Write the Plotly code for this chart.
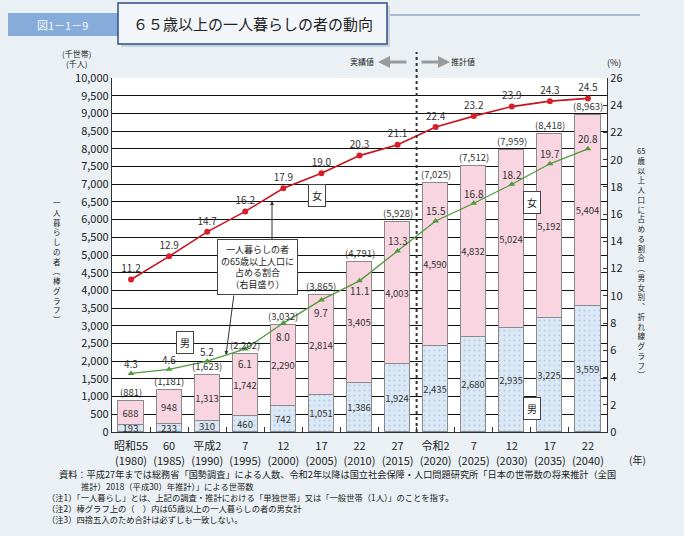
import plotly.graph_objects as go

years = [1980, 1985, 1990, 1995, 2000, 2005, 2010, 2015, 2020, 2025, 2030, 2035, 2040]
era_labels = ["昭和55", "60", "平成2", "7", "12", "17", "22", "27", "令和2", "7", "12", "17", "22"]
male_count = [193, 233, 310, 460, 742, 1051, 1386, 1924, 2435, 2680, 2935, 3225, 3559]
female_count = [688, 948, 1313, 1742, 2290, 2814, 3405, 4003, 4590, 4832, 5024, 5192, 5404]
total_count = [881, 1181, 1623, 2202, 3032, 3865, 4791, 5928, 7025, 7512, 7959, 8418, 8963]
male_pct = [4.3, 4.6, 5.2, 6.1, 8.0, 9.7, 11.1, 13.3, 15.5, 16.8, 18.2, 19.7, 20.8]
female_pct = [11.2, 12.9, 14.7, 16.2, 17.9, 19.0, 20.3, 21.1, 22.4, 23.2, 23.9, 24.3, 24.5]
# label offsets (pixels) for the male-ratio labels: above for most, below where totals sit
male_label_shift = [10, 10, 10, -15, -13, -13, -10, 10, 10, 10, 10, 10, 10]

FONT = "Noto Sans CJK JP"
W, H = 684, 536
L, R, T, B = 112, 77, 78, 104
PW, PH = W - L - R, H - T - B


def px(x):
    return (x - L) / PW


def py(y):
    return (H - B - y) / PH


fig = go.Figure()

fig.add_trace(go.Bar(
    x=years, y=male_count, width=3.3,
    marker=dict(color="#dbe8f5", line=dict(color="#8a8a8a", width=1),
                pattern=dict(shape=".", fgcolor="#8fb0d3", bgcolor="#dbe8f5", size=5, solidity=0.15)),
    text=[f"{v:,}" for v in male_count], textposition="inside", insidetextanchor="middle", textangle=0,
    textfont=dict(size=9.5, color="#333", family=FONT), showlegend=False, hoverinfo="skip"))

fig.add_trace(go.Bar(
    x=years, y=female_count, width=3.3,
    marker=dict(color="#f8d5e0", line=dict(color="#8a8a8a", width=1)),
    text=[f"{v:,}" for v in female_count], textposition="inside", insidetextanchor="middle", textangle=0,
    textfont=dict(size=9.5, color="#333", family=FONT), showlegend=False, hoverinfo="skip"))

fig.add_trace(go.Scatter(
    x=years, y=female_pct, yaxis="y2", mode="lines+markers+text",
    line=dict(color="#c4161c", width=1.6), marker=dict(symbol="circle", size=6, color="#d81e28"),
    text=[f"{v:.1f}" for v in female_pct], textposition="top center",
    textfont=dict(size=10, color="#333", family=FONT), showlegend=False, hoverinfo="skip"))

fig.add_trace(go.Scatter(
    x=years, y=male_pct, yaxis="y2", mode="lines+markers",
    line=dict(color="#4f9a3a", width=1.3), marker=dict(symbol="triangle-up", size=6, color="#4f9a3a"),
    showlegend=False, hoverinfo="skip"))

mid_ticks = [(years[i] + years[i + 1]) / 2 for i in range(len(years) - 1)]

fig.update_layout(
    width=W, height=H, margin=dict(l=L, r=R, t=T, b=B),
    paper_bgcolor="#eaf0f4", plot_bgcolor="#ffffff",
    barmode="stack", bargap=0,
    font=dict(family=FONT, color="#222"),
    uniformtext=dict(minsize=9.5, mode="show"),
    xaxis=dict(range=[1977.5, 2042.5], tickmode="array", tickvals=years,
               ticktext=[f"{a}<br>({y})" for a, y in zip(era_labels, years)],
               showline=True, linecolor="#333", linewidth=1.2, showgrid=False, zeroline=False,
               ticks="", ticklabelstandoff=4, tickfont=dict(size=11, color="#222"),
               minor=dict(tickmode="array", tickvals=mid_ticks, ticks="inside", ticklen=5, tickcolor="#333")),
    yaxis=dict(range=[0, 10000], dtick=500, tickformat=",", showline=True, linecolor="#333", linewidth=1.2,
               gridcolor="#111", gridwidth=1.3, zeroline=False, ticks="", tickfont=dict(size=11, color="#222")),
    yaxis2=dict(range=[0, 26], dtick=2, overlaying="y", side="right", showgrid=False, zeroline=False,
                showline=True, linecolor="#333", linewidth=1.2, ticks="inside", ticklen=4, tickcolor="#333",
                tickfont=dict(size=11, color="#222")),
)

shapes = []
# dotted divider between actual and projected values
shapes.append(dict(type="line", xref="x", yref="paper", x0=2017.5, x1=2017.5, y0=0, y1=py(52),
                   line=dict(color="#333", width=2, dash="dot")))
# title tab and box
shapes.append(dict(type="line", xref="paper", yref="paper", x0=px(388), x1=px(640), y0=py(15), y1=py(15),
                   line=dict(color="#a9bdd2", width=2)))
shapes.append(dict(type="rect", xref="paper", yref="paper", x0=px(8), x1=px(118), y0=py(13), y1=py(36),
                   fillcolor="#86acd9", line=dict(width=0)))
shapes.append(dict(type="rect", xref="paper", yref="paper", x0=px(121), x1=px(390), y0=py(6), y1=py(47),
                   fillcolor="#c9d3de", line=dict(width=0)))
shapes.append(dict(type="rect", xref="paper", yref="paper", x0=px(118), x1=px(387), y0=py(3), y1=py(44),
                   fillcolor="#f2f6fb", line=dict(color="#2c4f86", width=1.5)))
fig.update_layout(shapes=shapes)

ann = []

# totals above bars
for xv, tv in zip(years, total_count):
    ann.append(dict(x=xv, y=tv, xref="x", yref="y", text=f"({tv:,})", showarrow=False,
                    xanchor="center", yanchor="bottom", yshift=0, font=dict(size=9.5, color="#333")))
# male ratio labels
for xv, mv, sh in zip(years, male_pct, male_label_shift):
    ann.append(dict(x=xv, y=mv, xref="x", yref="y2", text=f"{mv:.1f}", showarrow=False,
                    xanchor="center", yanchor="middle", yshift=sh, font=dict(size=10, color="#333")))


def add_text(xx, yy, t, size, **kw):
    d = dict(x=px(xx), y=py(yy), xref="paper", yref="paper", text=t, showarrow=False,
             xanchor="center", yanchor="middle", font=dict(size=size, color=kw.pop("color", "#222")))
    d.update(kw)
    ann.append(d)


add_text(62, 25, "図1－1－9", 11, color="#f4f8fc")
add_text(253, 24, "６５歳以上の一人暮らしの者の動向", 15)
add_text(76, 58, "(千世帯)<br>(千人)", 8)
add_text(614, 63, "(%)", 9)
add_text(637, 459, "(年)", 10)
add_text(362, 62, "実績値", 8)
add_text(463, 62, "推計値", 8)
ann.append(dict(x=px(378), y=py(62), xref="paper", yref="paper", ax=30, ay=0, text="", showarrow=True,
                arrowhead=2, arrowsize=0.8, arrowwidth=3, arrowcolor="#9a9a9a"))
ann.append(dict(x=px(450), y=py(62), xref="paper", yref="paper", ax=-30, ay=0, text="", showarrow=True,
                arrowhead=2, arrowsize=0.8, arrowwidth=3, arrowcolor="#9a9a9a"))

# vertical axis titles (stacked characters)
left_title = ["一", "人", "暮", "ら", "し", "の", "者", "︵", "棒", "グ", "ラ", "フ", "︶"]
add_text(57, 261, "<br>".join(left_title), 7.5)
right_title = ["65", "歳", "以", "上", "人", "口", "に", "占", "め", "る", "割", "合", "︵", "男", "女", "別",
               "︑", "折", "れ", "線", "グ", "ラ", "フ", "︶"]
add_text(641, 262, "<br>".join(right_title), 7.5)

# series label boxes
for (xx, yy, t) in [(317, 195, "女"), (532, 202, "女"), (185, 342, "男"), (532, 408, "男")]:
    add_text(xx, yy, t, 10, bgcolor="#ffffff", bordercolor="#444", borderwidth=1, borderpad=3)

# callout box
add_text(257, 267, "一人暮らしの者<br>の65歳以上人口に<br>占める割合<br>（右目盛り）", 9,
         bgcolor="#ffffff", bordercolor="#444", borderwidth=1, borderpad=3)
ann.append(dict(x=px(272), y=py(201), xref="paper", yref="paper", ax=0, ay=40, text="", showarrow=True,
                arrowhead=2, arrowsize=0.8, arrowwidth=1, arrowcolor="#333"))
ann.append(dict(x=px(226), y=py(355), xref="paper", yref="paper", ax=8, ay=-61, text="", showarrow=True,
                arrowhead=2, arrowsize=0.8, arrowwidth=1, arrowcolor="#333"))

# footnotes
notes = [
    (57, 474, 9.2, "資料：平成27年までは総務省「国勢調査」による人数、令和2年以降は国立社会保障・人口問題研究所「日本の世帯数の将来推計（全国"),
    (79, 486, 8.3, "推計）2018（平成30）年推計）」による世帯数"),
    (45, 497, 8.3, "（注1）「一人暮らし」とは、上記の調査・推計における「単独世帯」又は「一般世帯（1人）」のことを指す。"),
    (45, 508, 8.3, "（注2）棒グラフ上の（　）内は65歳以上の一人暮らしの者の男女計"),
    (45, 519, 8.3, "（注3）四捨五入のため合計は必ずしも一致しない。"),
]
for (xx, yy, fs, t) in notes:
    ann.append(dict(x=px(xx), y=py(yy), xref="paper", yref="paper", text=t, showarrow=False,
                    xanchor="left", yanchor="middle", font=dict(size=fs, color="#222")))

fig.update_layout(annotations=ann)
fig.write_html("out.html", config={"displayModeBar": False},
               post_script="document.body.style.margin='0';document.body.style.overflow='hidden';")
